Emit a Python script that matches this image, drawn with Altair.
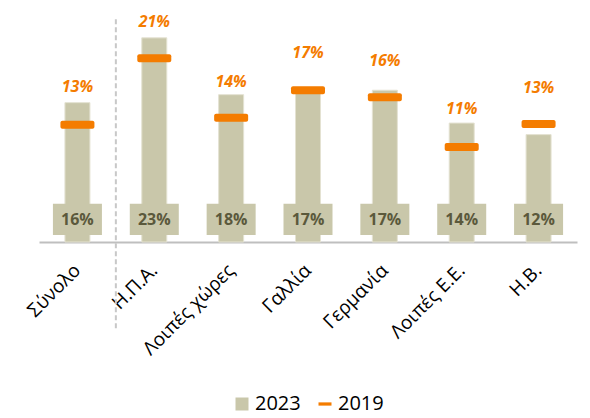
import altair as alt
import pandas as pd

categories = ["Σύνολο", "Η.Π.Α.", "Λοιπές χώρες", "Γαλλία", "Γερμανία", "Λοιπές Ε.Ε.", "Η.Β."]
bar_2023 = [15.7, 23.0, 16.6, 17.0, 17.1, 13.4, 12.1]
labels_2023 = ["16%", "23%", "18%", "17%", "17%", "14%", "12%"]
tick_2019 = [13.2, 20.7, 14.0, 17.1, 16.3, 10.7, 13.3]
labels_2019 = ["13%", "21%", "14%", "17%", "16%", "11%", "13%"]
label_level_2019 = [17.5, 24.8, 18.0, 21.3, 20.4, 15.0, 17.4]
series = ["2023", "2019"]

OLIVE = "#c9c7aa"
ORANGE = "#f47c00"
FONT = "Open Sans"

df = pd.DataFrame({
    "cat": categories,
    "v23": bar_2023,
    "lab23": labels_2023,
    "v19": tick_2019,
    "lab19": labels_2019,
    "lvl": label_level_2019,
})
leg_df = pd.DataFrame({"s": series})
sep_df = pd.DataFrame({"cat": [categories[0]]})

xscale = alt.Scale(paddingInner=0, paddingOuter=0)
xaxis = alt.Axis(title=None, labelAngle=-45, labelFontSize=19, labelFont=FONT,
                 labelColor="#000000", domainColor="#bfbfbf", domainWidth=2,
                 ticks=False, labelPadding=25, labelAlign="right", labelBaseline="middle")
X = alt.X("cat:N", sort=categories, scale=xscale, axis=xaxis)
yscale = alt.Scale(domain=[0, 25.8], nice=False, zero=True)

base = alt.Chart(df)

bars = base.mark_bar(width=25, color=OLIVE, stroke="#e4e2d2", strokeWidth=1).encode(
    x=X, y=alt.Y("v23:Q", scale=yscale, axis=None)
)
boxes = base.mark_bar(width=49, color=OLIVE).encode(
    x=X, y=alt.datum(0.8), y2=alt.datum(4.3)
)
box_text = base.mark_text(font=FONT, fontSize=16, fontWeight="bold", color="#5b593c").encode(
    x=X, y=alt.datum(2.5), text="lab23:N"
)
ticks = base.mark_tick(color=ORANGE, opacity=1, size=34, thickness=8, cornerRadius=2,
                       orient="horizontal").encode(
    x=X, y="v19:Q"
)
top_labels = base.mark_text(font=FONT, fontSize=16, fontWeight="bold", fontStyle="italic",
                            color=ORANGE).encode(
    x=X, y="lvl:Q", text="lab19:N"
)
sep = alt.Chart(sep_df).mark_rule(strokeDash=[5, 3], color="#c8c8c8", strokeWidth=2, clip=False).encode(
    x=alt.X("cat:N", sort=categories, scale=xscale, bandPosition=1, axis=xaxis),
    y=alt.datum(25.1), y2=alt.datum(-10)
)

leg = alt.Legend(orient="none", legendX=193, legendY=381, direction="horizontal", title=None,
                 labelFontSize=20, labelFont=FONT, labelColor="#000000", symbolSize=169,
                 symbolOpacity=1, symbolStrokeWidth=0, labelOffset=3, columnPadding=14)
legend_layer = alt.Chart(leg_df).mark_point(filled=True, opacity=0, size=169).encode(
    x=alt.value(0), y=alt.value(0),
    color=alt.Color("s:N", scale=alt.Scale(domain=series, range=[OLIVE, ORANGE]), legend=leg),
    shape=alt.Shape("s:N", scale=alt.Scale(domain=series, range=["square", "M-1,-0.25H1V0.25H-1Z"]), legend=leg),
)

chart = alt.layer(bars, boxes, box_text, ticks, top_labels, sep, legend_layer).properties(
    width=538, height=229,
    autosize=alt.AutoSizeParams(type="none"),
    padding={"left": 31, "top": 5, "right": 5, "bottom": 176},
    background="white",
).configure_view(stroke=None)

chart.save("out.html", embed_options={"renderer": "svg", "actions": False})
